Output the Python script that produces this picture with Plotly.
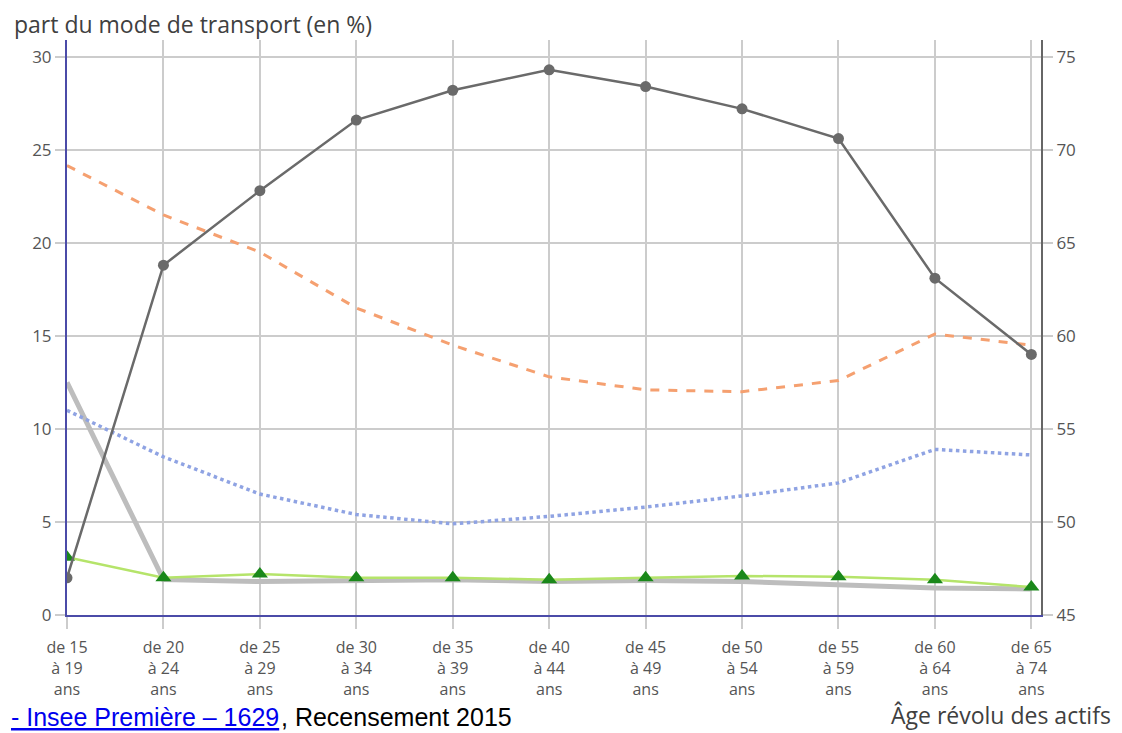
import plotly.graph_objects as go

categories = ["de 15<br>à 19<br>ans", "de 20<br>à 24<br>ans", "de 25<br>à 29<br>ans", "de 30<br>à 34<br>ans",
              "de 35<br>à 39<br>ans", "de 40<br>à 44<br>ans", "de 45<br>à 49<br>ans", "de 50<br>à 54<br>ans",
              "de 55<br>à 59<br>ans", "de 60<br>à 64<br>ans", "de 65<br>à 74<br>ans"]

voiture = [47.0, 63.8, 67.8, 71.6, 73.2, 74.3, 73.4, 72.2, 70.6, 63.1, 59.0]   # right axis
transports_commun = [24.15, 21.5, 19.5, 16.5, 14.5, 12.8, 12.1, 12.0, 12.6, 15.1, 14.5]
marche = [11.0, 8.5, 6.5, 5.4, 4.9, 5.3, 5.8, 6.4, 7.1, 8.9, 8.6]
deux_roues = [12.5, 1.9, 1.8, 1.85, 1.9, 1.8, 1.85, 1.8, 1.65, 1.45, 1.4]
velo = [3.1, 2.0, 2.2, 2.0, 2.0, 1.9, 2.0, 2.1, 2.05, 1.9, 1.5]

left_ticks = [0, 5, 10, 15, 20, 25, 30]
right_ticks = [45, 50, 55, 60, 65, 70, 75]

x = list(range(len(categories)))

fig = go.Figure()
fig.add_trace(go.Scatter(x=x, y=deux_roues, mode="lines",
                         line=dict(color="#bdbdbd", width=5), showlegend=False))
fig.add_trace(go.Scatter(x=x, y=marche, mode="lines",
                         line=dict(color="#8fa3e3", width=3.5, dash="dot"), showlegend=False))
fig.add_trace(go.Scatter(x=x, y=transports_commun, mode="lines",
                         line=dict(color="#f5a070", width=3, dash="dash"), showlegend=False))
fig.add_trace(go.Scatter(x=x, y=velo, mode="lines+markers",
                         line=dict(color="#b5e46a", width=2.5),
                         marker=dict(symbol="triangle-up", size=14, color="#1a881a"), showlegend=False))
fig.add_trace(go.Scatter(x=x, y=voiture, mode="lines+markers", yaxis="y2",
                         line=dict(color="#6a6a6a", width=2.5),
                         marker=dict(symbol="circle", size=11, color="#6a6a6a"), showlegend=False))

tickfont = dict(family="Open Sans", size=17, color="#555555")
xtickfont = dict(family="Open Sans", size=16, color="#555555")

fig.update_layout(
    width=1114, height=725,
    margin=dict(l=59, r=81, t=32, b=118),
    paper_bgcolor="white", plot_bgcolor="white",
    xaxis=dict(range=[0, 10.1], tickmode="array", tickvals=x, ticktext=categories,
               showgrid=True, gridcolor="#cccccc", gridwidth=1.5,
               showline=True, linecolor="#4b4ba8", linewidth=2,
               ticks="outside", ticklen=12, tickcolor="#cccccc", tickwidth=1.5,
               ticklabelstandoff=5,
               tickfont=xtickfont, zeroline=False),
    yaxis=dict(range=[0, 30.9], tickvals=left_ticks, showgrid=True, gridcolor="#cccccc", gridwidth=1.5,
               showline=True, linecolor="#4b4ba8", linewidth=2,
               ticks="outside", ticklen=10, tickcolor="#cccccc", tickwidth=1.5,
               tickfont=tickfont, zeroline=False),
    yaxis2=dict(range=[45, 75.9], tickvals=right_ticks, overlaying="y", side="right",
                showgrid=False, showline=True, linecolor="#666666", linewidth=2,
                ticks="outside", ticklen=10, tickcolor="#cccccc", tickwidth=1.5,
                tickfont=tickfont, zeroline=False),
    annotations=[
        dict(text="part du mode de transport (en %)", xref="paper", yref="paper",
             x=-0.0565, y=(615 - 24) / 575, xanchor="left", yanchor="middle", showarrow=False,
             font=dict(family="Open Sans", size=23, color="#404040")),
        dict(text="Âge révolu des actifs", xref="paper", yref="paper",
             x=1.074, y=(615 - 715) / 575, xanchor="right", yanchor="middle", showarrow=False,
             font=dict(family="Open Sans", size=23, color="#404040")),
        dict(text="- Insee Première – 1629", xref="paper", yref="paper",
             x=(9 - 67) / 974, y=-0.178, xanchor="left", yanchor="middle", showarrow=False,
             font=dict(family="Liberation Sans", size=25, color="#0000ee", lineposition="under")),
        dict(text=", Recensement 2015", xref="paper", yref="paper",
             x=(279 - 67) / 974, y=-0.178, xanchor="left", yanchor="middle", showarrow=False,
             font=dict(family="Liberation Sans", size=25, color="#000000")),
    ],
)

fig.write_html("out.html")
